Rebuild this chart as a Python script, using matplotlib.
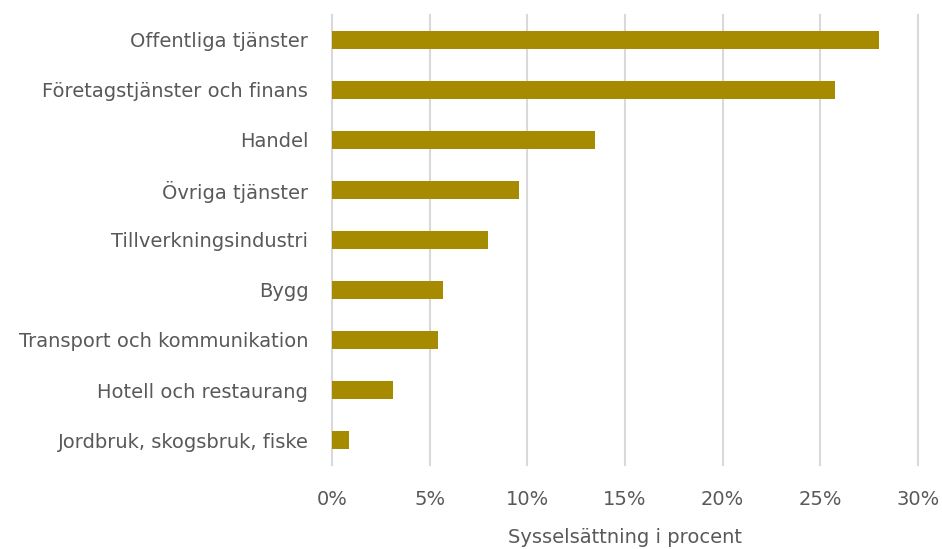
import matplotlib.pyplot as plt
from matplotlib.ticker import FuncFormatter

plt.rcParams["font.family"] = ["DejaVu Sans"]

sectors = ["Offentliga tjänster", "Företagstjänster och finans", "Handel",
           "Övriga tjänster", "Tillverkningsindustri", "Bygg",
           "Transport och kommunikation", "Hotell och restaurang",
           "Jordbruk, skogsbruk, fiske"]
shares = [28.0, 25.75, 13.45, 9.6, 8.0, 5.7, 5.45, 3.1, 0.85]

text_col = "#595959"

fig = plt.figure(figsize=(9.42, 5.49), dpi=100)
ax = fig.add_axes([0.3524, 0.1530, 0.6221, 0.8197])

ypos = list(range(len(sectors)))[::-1]
ax.barh(ypos, shares, height=0.36, color="#A68A00", zorder=3)

ax.set_xlim(0, 30)
ax.set_ylim(-0.5, len(sectors) - 0.5)
ax.set_xticks(range(0, 31, 5))
ax.xaxis.set_major_formatter(FuncFormatter(lambda v, p: f"{v:.0f}%"))
ax.set_yticks(ypos)
ax.set_yticklabels(sectors)

ax.grid(axis="x", color="#D9D9D9", linewidth=1.5, zorder=0)
for gl in ax.xaxis.get_gridlines():
    gl.set_clip_on(False)
for s in ax.spines.values():
    s.set_visible(False)
ax.tick_params(axis="both", length=0, labelsize=14, colors=text_col)
ax.tick_params(axis="x", pad=18)
ax.tick_params(axis="y", pad=17)

ax.set_xlabel("Sysselsättning i procent", fontsize=14, color=text_col, labelpad=14)

fig.savefig("out.png", dpi=100)
